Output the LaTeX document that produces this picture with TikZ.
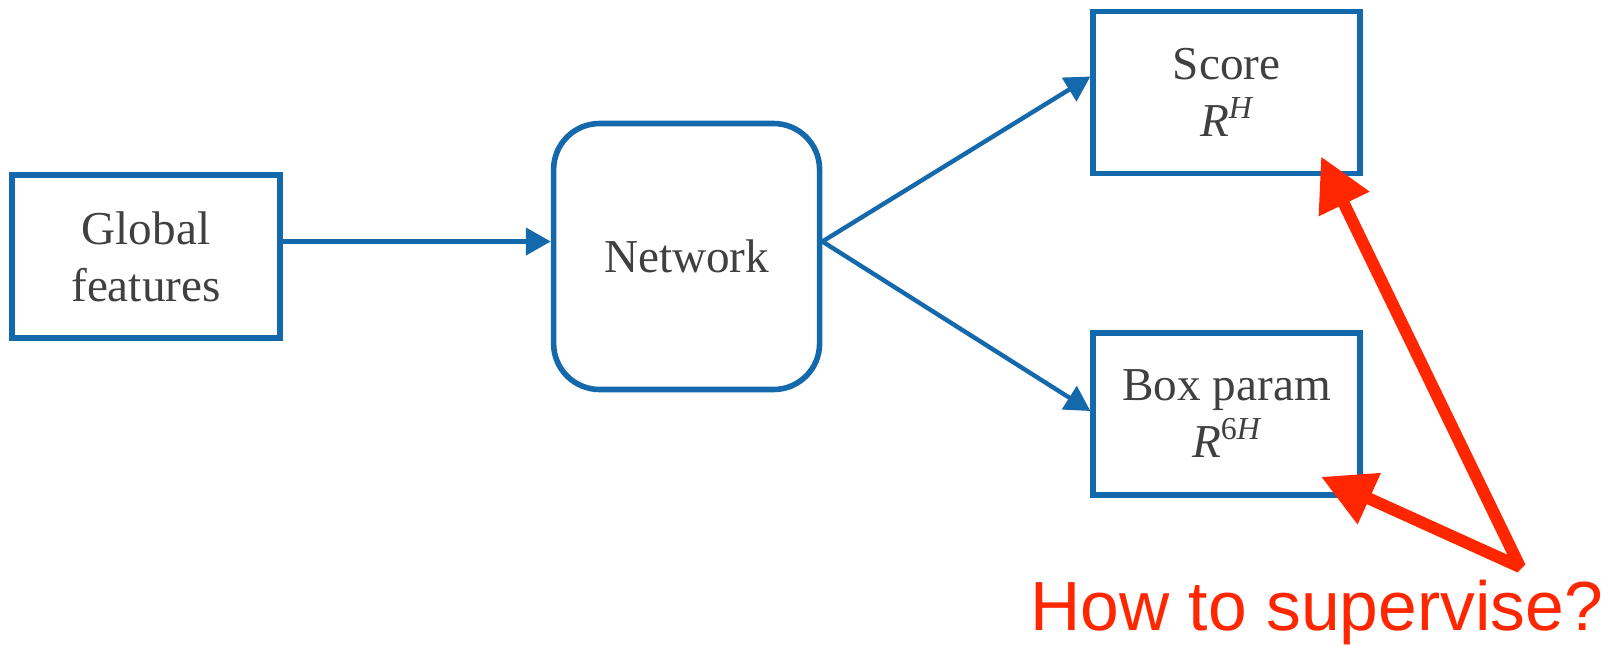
\documentclass[tikz,border=0pt]{standalone}
\usepackage{fontspec}
\setmainfont{Liberation Serif}
\newfontfamily\asksans{Liberation Sans}
\usetikzlibrary{arrows.meta, positioning, calc}
\definecolor{boxblue}{RGB}{20,104,172}
\definecolor{askred}{RGB}{255,38,0}
\definecolor{inkgray}{RGB}{64,64,64}
\newcommand{\upsc}[1]{\raisebox{9pt}{\fontsize{16}{16}\selectfont #1}}
\tikzset{
  block/.style={
    rectangle, draw=boxblue, fill=white, line width=2.8pt, minimum width=134pt,
    minimum height=81.5pt, align=center, text=inkgray, inner sep=0pt,
    font=\fontsize{23.6}{28.5}\selectfont
  },
  netblock/.style={block, minimum width=133pt, minimum height=133pt, rounded corners=23pt},
  outblock/.style={block, minimum width=133.5pt, minimum height=81pt},
  flow/.style={-{Triangle[length=12.5pt,width=13.5pt]}, draw=boxblue, line width=2.2pt},
  ask/.style={{Triangle[length=26.5pt,width=26.5pt]}-{Triangle[length=26.5pt,width=26.5pt]},
    draw=askred, line width=6pt, line join=bevel},
  asklabel/.style={text=askred, inner sep=0pt, anchor=base west,
    font=\asksans\fontsize{34.8}{40}\selectfont}
}

\begin{document}
\begin{tikzpicture}[x=0.5pt, y=-0.5pt]
  \useasboundingbox (0,0) rectangle (1612,645);
  \node[block] (glob) at (146,256.5) {Global\\features};
  \node[netblock, right=134pt of glob] (net) {Network};
  \node[outblock, right=134pt of net, yshift=82pt] (score) {Score\\\textit{R}\upsc{\textit{H}}};
  \node[outblock, right=134pt of net, yshift=-78.75pt] (boxp) {Box param\\\textit{R}\upsc{6\textit{H}}};
  \node[asklabel] (ask) at (1030,630) {How to supervise?};
  \coordinate (q) at (1520,567);
  \coordinate (sctip) at ([xshift=-21pt,yshift=10pt]score.south east);
  \coordinate (bxtip) at ([xshift=-21pt,yshift=10.5pt]boxp.south east);
  \draw[flow] ([yshift=7.5pt]glob.east) -- ([yshift=7.5pt]net.west);
  \draw[flow] ([yshift=7.5pt]net.east) -- ([yshift=8pt]score.west);
  \draw[flow] ([yshift=7.5pt]net.east) -- ([yshift=1.5pt]boxp.west);
  \draw[ask] (sctip) -- (q) -- (bxtip);
\end{tikzpicture}
\end{document}
